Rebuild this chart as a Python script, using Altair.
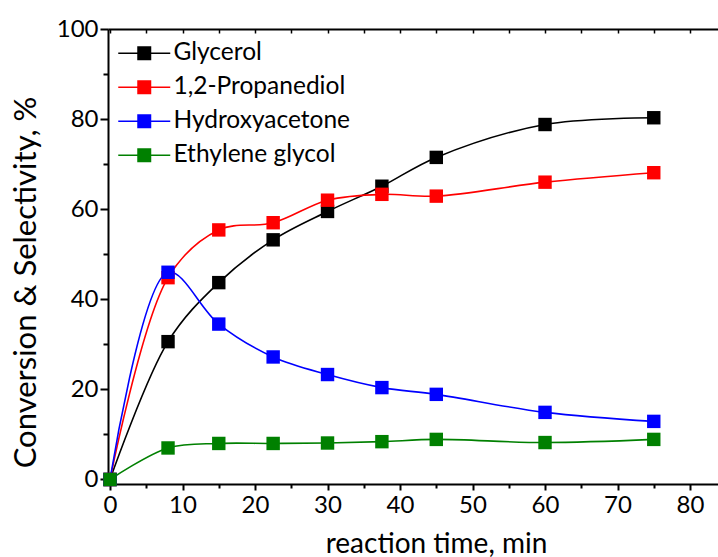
import altair as alt
import pandas as pd

# Reaction time (min) and the measured conversion / selectivities (%)
time_min = [0, 8, 15, 22.5, 30, 37.5, 45, 60, 75]
glycerol = [0, 30.6, 43.7, 53.2, 59.5, 65.1, 71.5, 78.8, 80.3]
propanediol = [0, 44.8, 55.4, 57.0, 62.0, 63.3, 62.9, 66.0, 68.1]
hydroxyacetone = [0, 46.0, 34.5, 27.2, 23.3, 20.4, 18.9, 14.9, 12.9]
ethylene_glycol = [0, 7.0, 8.0, 8.0, 8.1, 8.4, 8.9, 8.2, 8.9]

series_names = ["Glycerol", "1,2-Propanediol", "Hydroxyacetone", "Ethylene glycol"]
series_values = [glycerol, propanediol, hydroxyacetone, ethylene_glycol]
series_colors = ["#000000", "#ff0000", "#0000ff", "#008000"]

x_major = [0, 10, 20, 30, 40, 50, 60, 70, 80]
x_minor = [5, 15, 25, 35, 45, 55, 65, 75]
x_top = [0, 5, 10, 15, 20, 25, 30, 35, 40, 45, 50, 55, 60, 65, 70, 75, 80]
y_major = [0, 20, 40, 60, 80, 100]
y_minor = [10, 30, 50, 70, 90]

rows = []
for order, (name, vals) in enumerate(zip(series_names, series_values)):
    for t, v in zip(time_min, vals):
        rows.append({"time": t, "value": v, "series": name, "order": order})
df = pd.DataFrame(rows)

FONT = "Lato"
x_scale = alt.Scale(domain=[-0.28, 83.86], nice=False, zero=False)
y_scale = alt.Scale(domain=[-1, 100], nice=False, zero=False)
color_scale = alt.Scale(domain=series_names, range=series_colors)

# legend glyph: a short line with a square on it
legend_symbol = "M-2.6,-0.08H2.6V0.08H-2.6Z M-0.7,-0.7H0.7V0.7H-0.7Z"
legend = alt.Legend(title=None, orient="none", legendX=24, legendY=12)
color = alt.Color("series:N", scale=color_scale, sort=series_names, legend=legend)

base = alt.Chart(df)

lines = base.mark_line(interpolate="catmull-rom", strokeWidth=1.6).encode(
    x=alt.X("time:Q", scale=x_scale,
            axis=alt.Axis(orient="bottom", values=x_major, tickSize=6, tickWidth=2,
                          domainWidth=2, domainColor="black", tickColor="black",
                          labelFontSize=24, labelFont=FONT, labelColor="black",
                          labelPadding=3, grid=False,
                          title="reaction time, min", titleFont=FONT,
                          titleFontSize=28, titleFontWeight="normal", titleColor="black",
                          titleX=328, titleY=68, titleAlign="center",
                          titleBaseline="alphabetic")),
    y=alt.Y("value:Q", scale=y_scale,
            axis=alt.Axis(orient="left", values=y_major, tickSize=8, tickWidth=2,
                          domainWidth=2, domainColor="black", tickColor="black",
                          labelFontSize=24, labelFont=FONT, labelColor="black",
                          labelPadding=2, grid=False,
                          title="Conversion & Selectivity, %", titleFont=FONT,
                          titleFontSize=31, titleFontWeight="normal", titleColor="black",
                          titleX=-73, titleY=253, titleAngle=-90, titleAlign="center",
                          titleBaseline="alphabetic")),
    color=color,
    detail="series:N",
    order="time:Q",
)

points = base.mark_point(shape="square", filled=True, size=180, opacity=1).encode(
    x=alt.X("time:Q", scale=x_scale, axis=None),
    y=alt.Y("value:Q", scale=y_scale, axis=None),
    color=color,
)

hidden = base.mark_point(opacity=0)

x_minor_axis = hidden.encode(
    x=alt.X("time:Q", scale=x_scale,
            axis=alt.Axis(orient="bottom", values=x_minor, tickSize=4, tickWidth=2,
                          tickColor="black", domain=False, labels=False, grid=False,
                          title=None)),
    y=alt.Y("value:Q", scale=y_scale, axis=None),
)

x_top_ticks = hidden.encode(
    x=alt.X("time:Q", scale=x_scale,
            axis=alt.Axis(orient="top", values=x_top, tickSize=4, tickWidth=1.5,
                          tickColor="black", domain=False, labels=False, grid=False,
                          offset=-4, title=None)),
    y=alt.Y("value:Q", scale=y_scale, axis=None),
)

x_top_line = hidden.encode(
    x=alt.X("time:Q", scale=x_scale,
            axis=alt.Axis(orient="top", ticks=False, labels=False, grid=False,
                          domainWidth=2, domainColor="black", title=None)),
    y=alt.Y("value:Q", scale=y_scale, axis=None),
)

y_minor_axis = hidden.encode(
    x=alt.X("time:Q", scale=x_scale, axis=None),
    y=alt.Y("value:Q", scale=y_scale,
            axis=alt.Axis(orient="left", values=y_minor, tickSize=5, tickWidth=2,
                          tickColor="black", domain=False, labels=False, grid=False,
                          title=None)),
)

chart = (
    alt.layer(x_minor_axis, x_top_ticks, x_top_line, y_minor_axis, lines, points)
    .resolve_scale(x="shared", y="shared")
    .resolve_axis(x="independent", y="independent")
    .properties(
        width=610,
        height=455,
        autosize=alt.AutoSizeParams(type="none"),
        padding={"left": 108, "top": 29, "right": 0, "bottom": 73},
        background="white",
    )
    .configure_view(stroke=None)
    .configure_legend(
        symbolType=legend_symbol, symbolSize=400, symbolStrokeWidth=0,
        symbolOpacity=1, labelFont=FONT, labelFontSize=24.5, labelColor="black",
        labelLimit=0, labelOffset=17, rowPadding=9, padding=0,
    )
)

chart.save("out.html", embed_options={"renderer": "svg", "actions": False})
